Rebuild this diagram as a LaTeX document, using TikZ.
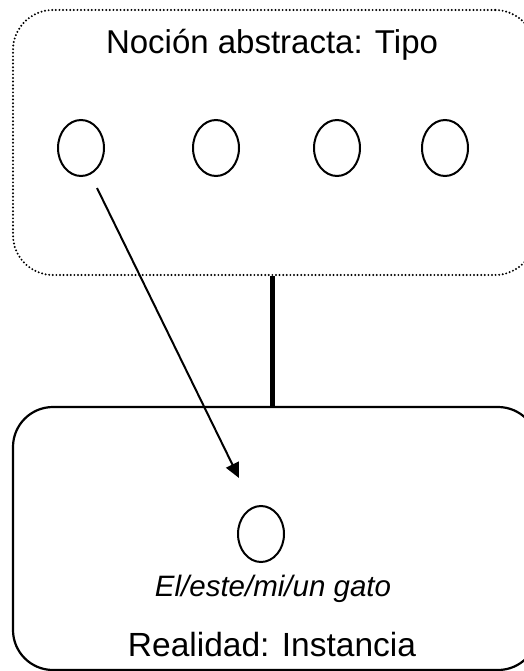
\documentclass[tikz,border=0pt]{standalone}
\usepackage{fontspec}
\setmainfont{Liberation Sans}
\usetikzlibrary{arrows.meta, shapes.geometric}

\tikzset{
    typebox/.style = {draw, line width = 2.2pt, line cap = round, dash pattern = on 0pt off 3.6pt, rounded corners = 40pt, minimum width = 522pt, minimum height = 265pt},
    realbox/.style = {draw, line width = 2.2pt, rounded corners = 40pt, minimum width = 525pt, minimum height = 263pt},
    ellnode/.style = {draw, ellipse, line width = 2pt, minimum width = 46pt, minimum height = 56pt, inner sep = 0pt},
}

\begin{document}
\begin{tikzpicture}[x = 1pt, y = 1pt]
    \useasboundingbox (+0.000, +0.000) rectangle (+523.000, -671.000);

    % Boxes
    \node[typebox] (tipo) at (+274.000, -142.500) {};
    %
    \node[realbox] (instancia) at (+275.500, -538.500) {};

    \draw[line width = 5pt] (tipo.south -| +272.000, 0) -- (instancia.north -| +272.000, 0);

    % Labels
    \node (tipolabel) at (+272.000, -45.000) {\fontsize{33}{40}\selectfont Noción abstracta: Tipo};
    %
    \node (gatolabel) at (+273.000, -589.000) {\fontsize{29.5}{35}\selectfont\itshape El/este/mi/un gato};
    %
    \node (instancialabel) at (+272.000, -645.000) {\fontsize{33.5}{40}\selectfont Realidad: Instancia};

    % Ellipses
    \node[ellnode] (tipoa) at (+81.000, -148.000) {};
    %
    \node[ellnode] (tipob) at (+216.000, -148.000) {};
    %
    \node[ellnode] (tipoc) at (+337.000, -148.000) {};
    %
    \node[ellnode] (tipod) at (+445.000, -148.000) {};
    %
    \node[ellnode] (gato) at (+261.000, -534.000) {};

    \coordinate (arrowfrom) at (+97.000, -188.000);
    \coordinate (arrowto) at (+239.000, -478.000);

    \draw[line width = 2pt, -{Triangle[length = 15pt, width = 14pt]}] (arrowfrom) -- (arrowto);
\end{tikzpicture}
\end{document}
